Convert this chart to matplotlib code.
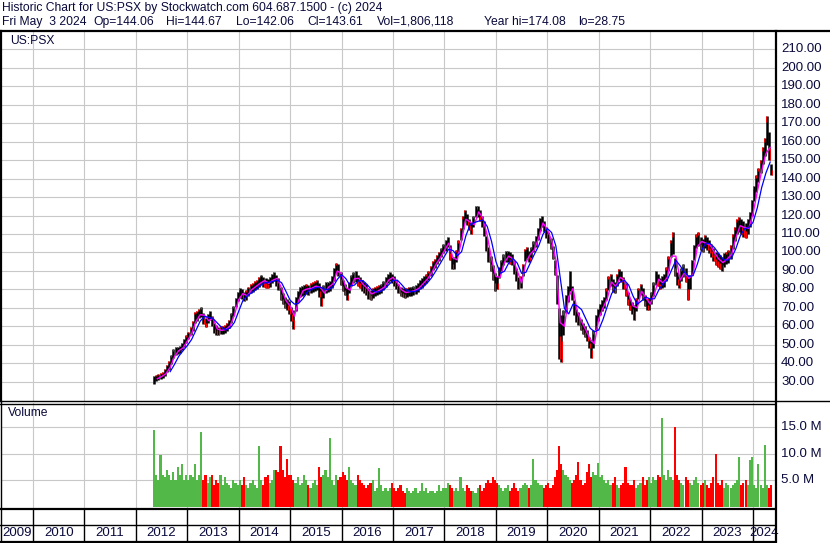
import numpy as np
import matplotlib
matplotlib.use('Agg')
import matplotlib.pyplot as plt
import matplotlib.transforms as mtrans
from matplotlib.lines import Line2D

plt.rcParams['font.family'] = ['Liberation Sans', 'DejaVu Sans']

# ---- data (half-month bars from May 2012) ----
start = 2012 + 4 / 12

lo = [
    28.8, 30.5, 31, 31.5, 32, 33, 35, 36.5, 39.5, 43, 44.5, 45, 45.5, 47, 49, 51,
    53, 55, 57.5, 62, 63, 64.5, 65, 61, 59.5, 61.5, 63.5, 60, 56.5, 55.5, 55.5, 56, 56, 56.5, 57.5, 59, 61.5, 65.5, 70.5, 73.5,
    75.5, 75, 73.5, 74.5, 76.5, 78, 78.5, 79.5, 80, 81.5, 83, 81.5, 81, 80.5, 81.5, 83.5, 84.5, 82, 79.5, 74.5, 72, 70, 69, 66.5,
    63, 58.6, 68, 73, 76, 76.5, 77, 77.5, 77, 78, 78.5, 79, 79.5, 76, 71, 75.5, 78, 78.5, 79, 81, 84.5, 89, 87.5, 82.5,
    79, 77, 74, 78, 82, 83.5, 84, 82, 80.5, 79, 78, 77, 75, 74.5, 75.5, 76.5, 77, 77.5, 78, 79.5, 81.5, 83.5, 84.5, 83.5,
    82, 80, 78, 76.5, 76, 75.5, 76, 76.5, 76.5, 77, 77.5, 78.5, 80, 81, 82.5, 83.5, 85, 87.5, 90.5, 91.5, 93.5, 95.5, 97.5, 99.5,
    101, 103, 96, 90.8, 91, 95, 100, 106.5, 112.5, 117, 115, 112, 110, 114, 119, 119, 117, 114, 109, 101, 95, 90, 85, 79,
    80, 86, 90, 93, 95, 95, 94, 93, 88.5, 84.5, 80, 81, 87, 95.5, 97, 95, 97, 100, 103, 106.5, 111.5, 114, 111, 108,
    105, 102, 96.5, 88, 72, 42, 40.4, 55, 67, 73, 79, 74, 66, 62.5, 60.5, 58, 56, 54, 52, 48, 43, 48, 58, 63,
    66, 68, 70, 74, 79.5, 82, 78.5, 78, 82, 85, 84, 80, 76.5, 71.5, 69, 66.5, 63.5, 68.5, 75, 77, 74, 71, 69, 69,
    72, 76.5, 82.5, 82, 80, 81, 81.5, 84.5, 90, 97.5, 99, 87, 82.5, 80.5, 84.5, 86.5, 84, 74, 80, 88, 96, 102.5, 103.5, 101.5,
    100.5, 102.5, 101.5, 99.5, 97.5, 95.5, 93, 92, 91, 90, 92, 93.5, 94.5, 96.5, 102, 106, 110, 111, 110, 108.5, 108, 110, 114, 119.5,
    128, 133, 138, 143, 148, 152, 158, 150, 142,
]
hi = [
    33, 33.5, 34, 34.5, 35, 37, 39, 41, 44.5, 47.5, 48.5, 49, 49.5, 51, 53, 55,
    57, 59.5, 63, 67.5, 68, 69.5, 70.5, 67, 64.5, 66.5, 68.5, 65.5, 61.5, 60.5, 59.5, 60, 60, 60.5, 61.5, 63.5, 67, 71, 75.5, 78.5,
    80.5, 80, 78.5, 79.5, 81.5, 83, 83.5, 84.5, 85, 86.5, 88, 86.5, 86, 85.5, 86.5, 88.5, 89.5, 88, 86, 81.5, 78, 76, 75, 73.5,
    70.5, 69, 76, 79, 81.5, 82, 82.5, 83, 82.5, 83.5, 84, 84.5, 85, 83.5, 81, 82.5, 84, 84, 84.5, 87, 91.5, 94.5, 94, 89.5,
    85, 83, 81, 84, 88, 89.5, 90, 88, 86.5, 85, 84, 83, 81, 79.5, 80.5, 81.5, 82, 82.5, 83, 84.5, 86.5, 88.5, 89.5, 88.5,
    87, 85, 83, 81.5, 81, 80.5, 81, 81.5, 81.5, 82, 82.5, 83.5, 85, 86, 87.5, 88.5, 90, 92.5, 95.5, 96.5, 98.5, 100.5, 102.5, 104.5,
    107, 108.5, 104, 97.5, 97.5, 101.5, 106.5, 113.5, 119.5, 123, 121, 118, 116, 120, 125, 125, 123, 120, 117, 109, 103, 98, 93, 89,
    87.5, 92, 96, 99, 101, 101, 100, 99, 95.5, 91.5, 86.5, 87.5, 94, 102, 103, 101, 103, 106, 109, 113.5, 118.5, 120, 117, 114,
    111, 108, 103.5, 96, 88, 70, 66, 69, 77, 82, 89.8, 82, 74, 69.5, 67.5, 64, 62, 60, 58, 54, 52, 58, 66, 69.5,
    72, 74, 76, 80.5, 87, 88.5, 85.5, 84, 88.5, 91, 90, 86.5, 83.5, 78.5, 75, 73, 71.5, 75.5, 81, 83, 80.5, 77, 75, 75.5,
    78.5, 84, 90, 88.5, 86, 87, 88.5, 92, 98, 107, 111, 97, 89.5, 87.5, 91.5, 93.5, 91.5, 88, 88, 96, 104, 110, 111, 108.5,
    107.5, 109.5, 108.5, 106.5, 104.5, 102.5, 100.5, 99.5, 98.5, 97.5, 99.5, 100.5, 101.5, 104, 110, 114, 118, 119, 118, 117, 116, 118, 122, 128.5,
    136, 142, 146, 150, 157, 162, 174, 165, 148,
]
volume = [
    14.5, 6, 5, 9.7, 6, 5.5, 7, 6, 5, 6.5, 5, 7.5, 6, 8, 5, 6,
    5, 6, 5.5, 8, 5, 6, 14, 5, 6, 4.5, 5.5, 6, 4, 5, 4.5, 6, 4, 5.5, 4.5, 4, 3.5, 5, 4.5, 4,
    5, 4, 5.5, 4, 3.5, 4.5, 5, 4, 3.5, 11.5, 5, 4, 5.5, 6, 4.5, 5, 7, 7, 6.5, 11.5, 7, 5.5, 9, 6,
    6, 5, 4.5, 5.5, 4, 4.5, 6, 5, 4, 3.5, 4.5, 5, 4, 7.5, 5.5, 6, 7, 5.5, 13, 5, 4, 6, 5, 5.5,
    6.5, 6, 5, 7.5, 5, 4.5, 4, 6, 5, 4.5, 4, 3.5, 4, 4.5, 5, 3, 3.5, 7.3, 4, 3, 3.5, 3, 3.5, 4.5,
    3.5, 3, 3.5, 4, 3, 2.5, 3.5, 3, 2.5, 3, 3.5, 2.5, 3, 4.5, 3, 3.5, 2.5, 3, 3, 2.5, 3, 4, 3, 3.5,
    3.5, 4.5, 4, 3.5, 3, 3.5, 3, 5.5, 3.5, 3, 4, 3.5, 3, 3, 2.5, 3.5, 4, 3, 3.5, 4.5, 5, 4.5, 5.5, 5,
    4.5, 4, 3.5, 3, 3.5, 4, 3, 3.5, 4.5, 3.5, 3, 3.5, 4, 4.5, 4, 3.5, 4, 9, 5, 4.5, 4, 4, 3.5, 4,
    4.5, 3.5, 4, 5.5, 7, 11.5, 8, 7, 6, 5.5, 5, 4.5, 5, 6, 8.5, 5, 4, 4.5, 6.5, 8, 5.5, 6.5, 6, 8.3,
    5.5, 6, 5, 4.5, 5, 4, 4.5, 5.5, 4, 3.5, 4, 4.5, 7.5, 4.5, 4, 4, 5, 3.5, 4, 4.5, 5.5, 4, 5, 5.5,
    4.5, 5.5, 5, 6, 5.5, 16.8, 6, 5, 7, 5.5, 5, 15, 6, 5, 4.5, 4, 5.5, 5, 4.5, 4, 5, 5.5, 4.5, 4,
    4.5, 5, 4, 3.5, 4.5, 5.5, 10, 4.5, 4, 5, 3.5, 4.5, 4, 3.5, 4, 4.5, 5, 9.3, 4, 4.5, 5, 4, 8.8, 9.3,
    4, 3.5, 8, 4, 3.5, 11.7, 4, 3.5, 4,
]

# moving averages, one value per month start (May 2012 .. May 2024)
ma_fast = [
    None, 31.5, 32.75, 34.25, 37.75, 43.5, 46.75, 48.25,
    52, 56, 62.5, 66.25, 66, 63, 64.5, 58.5, 57.75, 58.25, 60.25, 66,
    74.5, 77.75, 76.5, 79.75, 81.5, 83.25, 84.75, 83.25, 85, 86, 80.5, 74,
    71, 65.5, 74, 79.25, 80.25, 80.5, 81.75, 81.25, 78, 81.25, 83, 90,
    88.5, 81, 79.5, 85.75, 86, 82.75, 80.5, 77.5, 78.5, 79.75, 81.25, 85,
    86.5, 83.5, 79.75, 78.25, 78.75, 79.25, 80.5, 83, 85.5, 88.75, 93.5, 97,
    101, 105, 97, 96, 106.5, 118, 116.5, 115, 122, 118.5, 109, 96.5,
    87, 86.5, 94.5, 98, 96.5, 90, 83.5, 94.5, 99, 101.5, 108, 116,
    112.5, 106.5, 96, 62, 60, 76, 80.5, 68, 62.5, 58, 53, 50.5,
    64, 70, 75, 84, 81.5, 86.5, 85, 77.5, 71, 70, 79, 75.5,
    72, 77.5, 85.5, 83.5, 86.5, 98, 98, 85, 89, 86, 88, 103,
    106, 105, 104, 100, 96.5, 94.5, 96.5, 99, 108, 114.5, 113.5, 113,
    121, 133, 144, 153.5, 157,
]
ma_slow = [
    None, None, None, None, 35.4, 39.3, 43.7, 46.7,
    49.5, 52.8, 57.8, 62.7, 65.4, 64.8, 64.2, 61.8, 59.4, 58.1, 59, 62.1,
    68.2, 74.1, 76.6, 78.1, 79.8, 81.9, 83.5, 83.8, 84.3, 85, 83.6, 79,
    74.1, 72, 72.5, 75, 78.6, 80.1, 80.9, 81.3, 80.1, 79.9, 81.3, 85.4,
    88, 85.8, 81.9, 82.3, 84.6, 84.7, 82.5, 79.8, 78.5, 78.8, 80.1, 82.5,
    84.8, 85, 82.6, 79.9, 78.8, 78.8, 79.7, 81.2, 83.5, 86.3, 90, 94,
    97.9, 101.8, 101, 98.2, 100.4, 109, 115.1, 116.2, 117, 117.5, 114, 105.9,
    95.2, 88.7, 89.8, 94.3, 96.7, 94.2, 88.7, 89.2, 94.1, 99.1, 103.6, 109.9,
    113, 110.8, 103.5, 86.7, 69.6, 66.7, 72, 71, 69, 64, 59, 57,
    58, 63.7, 70.8, 77.6, 81.2, 84, 84.9, 82.3, 76.4, 71.9, 73.8, 75.8,
    74.8, 74.9, 79.6, 83.1, 85.1, 90.5, 95.7, 92.8, 89.2, 87, 87.4, 93.6,
    101.2, 105, 104.8, 102.6, 99.4, 96.4, 95.7, 97.1, 102.1, 108.8, 112.8, 113.5,
    116.3, 124.2, 135, 143, 149,
]

years = list(range(2009, 2025))
price_ticks = list(range(30, 211, 10))
vol_ticks = [5, 10, 15]

header1 = "Historic Chart for US:PSX by Stockwatch.com 604.687.1500 - (c) 2024"
header2 = ["Fri May  3 2024", "Op=144.06", "Hi=144.67", "Lo=142.06", "Cl=143.61",
           "Vol=1,806,118", "Year hi=174.08", "lo=28.75"]
header2_x = [2, 93, 166, 236, 307, 377, 484, 578]

# ---- layout in pixels ----
W, H = 830, 543
PX_YEAR = 51.43
X2010 = 33


def yr(px):
    return 2010 + (px - X2010) / PX_YEAR


def rect(x0, y0, x1, y1):
    return [x0 / W, 1 - y1 / H, (x1 - x0) / W, (y1 - y0) / H]


fig = plt.figure(figsize=(W / 100, H / 100), dpi=100)
fig.patch.set_facecolor('white')

ax = fig.add_axes(rect(1, 31, 775, 401))
axv = fig.add_axes(rect(1, 403, 775, 509))
axb = fig.add_axes(rect(1, 509, 775, 541))
xlim = (yr(1), yr(775))
for a in (ax, axv, axb):
    a.set_xlim(*xlim)
    a.set_xticks([])
    a.set_yticks([])
    for s in a.spines.values():
        s.set_visible(False)

ax.set_ylim(19.5, 220.0)
axv.set_ylim(-0.45, 19.55)
axb.set_ylim(0, 1)

grid_c = '#c8c8c8'
txt_c = '#0a0a3c'
fs = 8.7
fs_ax = 9.5

for y in years[1:]:
    ax.axvline(y, color=grid_c, lw=0.8, zorder=0)
    axv.axvline(y, color=grid_c, lw=0.8, zorder=0)
    axb.axvline(y, color='black', lw=1.0)
for p in price_ticks:
    ax.axhline(p, color=grid_c, lw=0.8, zorder=0)
for v in vol_ticks:
    axv.axhline(v, color=grid_c, lw=0.8, zorder=0)

# ---- price bars ----
lo_a = np.array(lo)
hi_a = np.array(hi)
t = start + (np.arange(len(hi_a)) + 0.5) / 24
mid = (lo_a + hi_a) / 2
down = np.r_[False, mid[1:] < mid[:-1]]

ax.vlines(t, lo_a, hi_a, color='black', lw=1.8, zorder=2)
ax.vlines(t[down] + 0.012, lo_a[down], (lo_a + 0.45 * (hi_a - lo_a))[down],
          color='#ff0000', lw=0.8, zorder=3)
ax.vlines(t[~down] - 0.012, (hi_a - 0.2 * (hi_a - lo_a))[~down], hi_a[~down],
          color='#ff0000', lw=0.7, zorder=3)

tm = start + np.arange(len(ma_fast)) / 12
ax.plot(tm, np.array(ma_fast, dtype=float), color='#ff00ff', lw=1.0, zorder=4)
ax.plot(tm, np.array(ma_slow, dtype=float), color='#0000ff', lw=0.9, zorder=5)

# ---- volume ----
vcol = np.where(down, '#ff0000', '#52b848')
axv.bar(t, volume, width=1 / 24 * 0.95, bottom=0, color=vcol, lw=0, zorder=2)

# ---- text ----
fig.text(2 / W, 1 - 8 / H, header1, fontsize=fs, color=txt_c, va='center', ha='left')
for s, x in zip(header2, header2_x):
    fig.text(x / W, 1 - 22 / H, s, fontsize=fs, color=txt_c, va='center', ha='left')
fig.text(10 / W, 1 - 41 / H, "US:PSX", fontsize=fs, color=txt_c, va='center', ha='left')
fig.text(8 / W, 1 - 413 / H, "Volume", fontsize=fs, color=txt_c, va='center', ha='left')

tr_p = mtrans.blended_transform_factory(fig.transFigure, ax.transData)
for p in price_ticks:
    fig.text(781 / W, p, f"{p:.2f}", transform=tr_p, fontsize=fs_ax, color=txt_c,
             va='center', ha='left')
tr_v = mtrans.blended_transform_factory(fig.transFigure, axv.transData)
for v in vol_ticks:
    fig.text(781 / W, v, f"{v:.1f} M", transform=tr_v, fontsize=fs_ax, color=txt_c,
             va='center', ha='left')

for y in years:
    a0 = max(y, xlim[0])
    a1 = min(y + 1, xlim[1])
    axb.text((a0 + a1) / 2, 0.25, str(y), fontsize=fs_ax, color=txt_c,
             ha='center', va='center')

# ---- frame lines ----
def hline(y, x0, x1, lw=1.0):
    fig.add_artist(Line2D([x0 / W, x1 / W], [1 - y / H, 1 - y / H],
                          color='black', lw=lw, transform=fig.transFigure))


def vline(x, y0, y1, lw=1.0):
    fig.add_artist(Line2D([x / W, x / W], [1 - y0 / H, 1 - y1 / H],
                          color='black', lw=lw, transform=fig.transFigure))


hline(31, 0, 830, 1.6)
hline(401, 0, 830, 1.0)
hline(403.5, 0, 775, 1.0)
hline(509, 0, 775, 1.6)
hline(525, 0, 775, 1.0)
hline(541.5, 0, 775, 1.6)
vline(0.8, 31, 401, 1.6)
vline(0.5, 401, 542, 1.0)
vline(775.5, 31, 542, 1.6)

fig.savefig('out.png', dpi=100)
